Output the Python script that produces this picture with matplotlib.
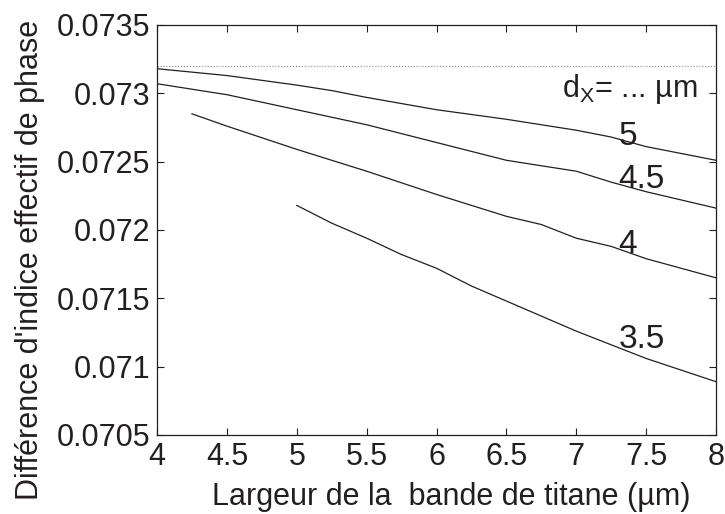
import matplotlib
matplotlib.use('Agg')
import matplotlib.pyplot as plt

plt.rcParams['font.family'] = ['Liberation Sans', 'DejaVu Sans']
plt.rcParams['mathtext.fontset'] = 'custom'
plt.rcParams['mathtext.rm'] = 'Liberation Sans'

# Données
x_5 = [4, 4.5, 5, 5.25, 5.5, 6, 6.5, 7, 7.25, 7.5, 8]
y_5 = [0.07318, 0.07313, 0.07306, 0.07302, 0.07297, 0.07288, 0.07281, 0.07273, 0.07268, 0.07261, 0.07251]

x_45 = [4, 4.25, 4.5, 5, 5.5, 6, 6.5, 7, 7.25, 7.5, 8]
y_45 = [0.07307, 0.07303, 0.07299, 0.07288, 0.07277, 0.07264, 0.07251, 0.07243, 0.07235, 0.07228, 0.07216]

x_4 = [4.25, 4.5, 5, 5.5, 6, 6.5, 6.75, 7, 7.25, 7.5, 8]
y_4 = [0.07285, 0.07276, 0.07259, 0.07243, 0.07226, 0.07210, 0.07204, 0.07194, 0.07188, 0.07179, 0.07165]

x_35 = [5, 5.25, 5.5, 5.75, 6, 6.25, 6.5, 6.75, 7, 7.25, 7.5, 8]
y_35 = [0.07218, 0.07205, 0.07194, 0.07182, 0.07172, 0.07159, 0.07148, 0.07137, 0.07126, 0.07116, 0.07106, 0.07089]

asymptote = 0.0732

curve_labels = ['5', '4.5', '4', '3.5']
label_y = [0.072622, 0.072307, 0.071832, 0.071137]

x_ticks = [4, 4.5, 5, 5.5, 6, 6.5, 7, 7.5, 8]
x_ticklabels = ['4', '4.5', '5', '5.5', '6', '6.5', '7', '7.5', '8']
y_ticks = [0.0705, 0.071, 0.0715, 0.072, 0.0725, 0.073, 0.0735]
y_ticklabels = ['0.0705', '0.071', '0.0715', '0.072', '0.0725', '0.073', '0.0735']

fig = plt.figure(figsize=(7.25, 5.14), dpi=100)
ax = fig.add_axes([0.2166, 0.1537, 0.7710, 0.7977])

ink = '#231f20'

# Courbes
ax.plot([4, 8], [asymptote, asymptote], linestyle=':', color='#8a8a8a', lw=0.8)
for xs, ys in [(x_5, y_5), (x_45, y_45), (x_4, y_4), (x_35, y_35)]:
    ax.plot(xs, ys, color=ink, lw=0.9)

# Etiquettes des courbes
ax.text(6.9, 0.072973, r'd$_{\mathrm{X}}$= ... µm', fontsize=22, color=ink, va='baseline')
for lab, yy in zip(curve_labels, label_y):
    ax.text(7.3, yy, lab, fontsize=24, color=ink, va='baseline')

ax.set_xlim(4, 8)
ax.set_ylim(0.0705, 0.0735)
ax.set_xticks(x_ticks)
ax.set_xticklabels(x_ticklabels)
ax.set_yticks(y_ticks)
ax.set_yticklabels(y_ticklabels)
ax.tick_params(direction='in', length=5, width=0.8, top=True, right=True,
               labelsize=22, labelcolor=ink, color=ink)
ax.tick_params(axis='x', pad=5)
ax.tick_params(axis='y', pad=5)
for s in ax.spines.values():
    s.set_linewidth(0.9)
    s.set_color(ink)

ax.set_xlabel('Largeur de la  bande de titane (µm)', fontsize=22, color=ink)
ax.xaxis.set_label_coords(0.527, -0.115)
ax.set_ylabel("Différence d'indice effectif de phase", fontsize=22, color=ink)
ax.yaxis.set_label_coords(-0.2, 0.427)

plt.savefig('out.png', dpi=100)
